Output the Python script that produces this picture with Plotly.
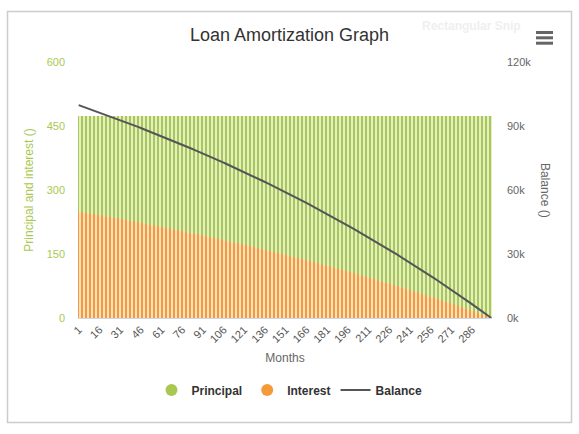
import plotly.graph_objects as go

months = list(range(1, 301))

principal = [
224.2, 224.8, 225.3, 225.9, 226.5, 227.0, 227.6, 228.2, 228.7, 229.3,
229.9, 230.5, 231.0, 231.6, 232.2, 232.8, 233.3, 233.9, 234.5, 235.1,
235.7, 236.3, 236.9, 237.5, 238.1, 238.7, 239.2, 239.8, 240.4, 241.0,
241.7, 242.3, 242.9, 243.5, 244.1, 244.7, 245.3, 245.9, 246.5, 247.1,
247.8, 248.4, 249.0, 249.6, 250.2, 250.9, 251.5, 252.1, 252.8, 253.4,
254.0, 254.7, 255.3, 255.9, 256.6, 257.2, 257.9, 258.5, 259.1, 259.8,
260.4, 261.1, 261.7, 262.4, 263.1, 263.7, 264.4, 265.0, 265.7, 266.4,
267.0, 267.7, 268.4, 269.0, 269.7, 270.4, 271.1, 271.7, 272.4, 273.1,
273.8, 274.5, 275.2, 275.8, 276.5, 277.2, 277.9, 278.6, 279.3, 280.0,
280.7, 281.4, 282.1, 282.8, 283.5, 284.2, 284.9, 285.7, 286.4, 287.1,
287.8, 288.5, 289.2, 290.0, 290.7, 291.4, 292.1, 292.9, 293.6, 294.3,
295.1, 295.8, 296.6, 297.3, 298.0, 298.8, 299.5, 300.3, 301.0, 301.8,
302.5, 303.3, 304.1, 304.8, 305.6, 306.3, 307.1, 307.9, 308.6, 309.4,
310.2, 311.0, 311.7, 312.5, 313.3, 314.1, 314.9, 315.7, 316.4, 317.2,
318.0, 318.8, 319.6, 320.4, 321.2, 322.0, 322.8, 323.6, 324.4, 325.3,
326.1, 326.9, 327.7, 328.5, 329.3, 330.2, 331.0, 331.8, 332.6, 333.5,
334.3, 335.2, 336.0, 336.8, 337.7, 338.5, 339.4, 340.2, 341.1, 341.9,
342.8, 343.6, 344.5, 345.3, 346.2, 347.1, 347.9, 348.8, 349.7, 350.6,
351.4, 352.3, 353.2, 354.1, 355.0, 355.8, 356.7, 357.6, 358.5, 359.4,
360.3, 361.2, 362.1, 363.0, 363.9, 364.8, 365.8, 366.7, 367.6, 368.5,
369.4, 370.4, 371.3, 372.2, 373.1, 374.1, 375.0, 375.9, 376.9, 377.8,
378.8, 379.7, 380.7, 381.6, 382.6, 383.5, 384.5, 385.4, 386.4, 387.4,
388.3, 389.3, 390.3, 391.3, 392.2, 393.2, 394.2, 395.2, 396.2, 397.2,
398.2, 399.2, 400.2, 401.2, 402.2, 403.2, 404.2, 405.2, 406.2, 407.2,
408.2, 409.3, 410.3, 411.3, 412.3, 413.4, 414.4, 415.4, 416.5, 417.5,
418.6, 419.6, 420.6, 421.7, 422.8, 423.8, 424.9, 425.9, 427.0, 428.1,
429.1, 430.2, 431.3, 432.4, 433.4, 434.5, 435.6, 436.7, 437.8, 438.9,
440.0, 441.1, 442.2, 443.3, 444.4, 445.5, 446.6, 447.7, 448.9, 450.0,
451.1, 452.2, 453.4, 454.5, 455.6, 456.8, 457.9, 459.1, 460.2, 461.4,
462.5, 463.7, 464.8, 466.0, 467.2, 468.3, 469.5, 470.7, 471.8, 473.0,
]

interest = [
250.0, 249.4, 248.9, 248.3, 247.7, 247.2, 246.6, 246.0, 245.5, 244.9,
244.3, 243.7, 243.2, 242.6, 242.0, 241.4, 240.9, 240.3, 239.7, 239.1,
238.5, 237.9, 237.3, 236.7, 236.1, 235.5, 235.0, 234.4, 233.8, 233.2,
232.5, 231.9, 231.3, 230.7, 230.1, 229.5, 228.9, 228.3, 227.7, 227.1,
226.4, 225.8, 225.2, 224.6, 224.0, 223.3, 222.7, 222.1, 221.4, 220.8,
220.2, 219.5, 218.9, 218.3, 217.6, 217.0, 216.3, 215.7, 215.1, 214.4,
213.8, 213.1, 212.5, 211.8, 211.1, 210.5, 209.8, 209.2, 208.5, 207.8,
207.2, 206.5, 205.8, 205.2, 204.5, 203.8, 203.1, 202.5, 201.8, 201.1,
200.4, 199.7, 199.0, 198.4, 197.7, 197.0, 196.3, 195.6, 194.9, 194.2,
193.5, 192.8, 192.1, 191.4, 190.7, 190.0, 189.3, 188.5, 187.8, 187.1,
186.4, 185.7, 185.0, 184.2, 183.5, 182.8, 182.1, 181.3, 180.6, 179.9,
179.1, 178.4, 177.6, 176.9, 176.2, 175.4, 174.7, 173.9, 173.2, 172.4,
171.7, 170.9, 170.1, 169.4, 168.6, 167.9, 167.1, 166.3, 165.6, 164.8,
164.0, 163.2, 162.5, 161.7, 160.9, 160.1, 159.3, 158.5, 157.8, 157.0,
156.2, 155.4, 154.6, 153.8, 153.0, 152.2, 151.4, 150.6, 149.8, 148.9,
148.1, 147.3, 146.5, 145.7, 144.9, 144.0, 143.2, 142.4, 141.6, 140.7,
139.9, 139.0, 138.2, 137.4, 136.5, 135.7, 134.8, 134.0, 133.1, 132.3,
131.4, 130.6, 129.7, 128.9, 128.0, 127.1, 126.3, 125.4, 124.5, 123.6,
122.8, 121.9, 121.0, 120.1, 119.2, 118.4, 117.5, 116.6, 115.7, 114.8,
113.9, 113.0, 112.1, 111.2, 110.3, 109.4, 108.4, 107.5, 106.6, 105.7,
104.8, 103.8, 102.9, 102.0, 101.1, 100.1, 99.2, 98.3, 97.3, 96.4,
95.4, 94.5, 93.5, 92.6, 91.6, 90.7, 89.7, 88.8, 87.8, 86.8,
85.9, 84.9, 83.9, 82.9, 82.0, 81.0, 80.0, 79.0, 78.0, 77.0,
76.0, 75.0, 74.0, 73.0, 72.0, 71.0, 70.0, 69.0, 68.0, 67.0,
66.0, 64.9, 63.9, 62.9, 61.9, 60.8, 59.8, 58.8, 57.7, 56.7,
55.6, 54.6, 53.6, 52.5, 51.4, 50.4, 49.3, 48.3, 47.2, 46.1,
45.1, 44.0, 42.9, 41.8, 40.8, 39.7, 38.6, 37.5, 36.4, 35.3,
34.2, 33.1, 32.0, 30.9, 29.8, 28.7, 27.6, 26.5, 25.3, 24.2,
23.1, 22.0, 20.8, 19.7, 18.6, 17.4, 16.3, 15.1, 14.0, 12.8,
11.7, 10.5, 9.4, 8.2, 7.0, 5.9, 4.7, 3.5, 2.4, 1.2,
]

balance = [
99780, 99550, 99330, 99100, 98870, 98650, 98420, 98190, 97960, 97730,
97500, 97270, 97040, 96810, 96580, 96340, 96110, 95880, 95640, 95410,
95170, 94940, 94700, 94460, 94220, 93980, 93750, 93510, 93270, 93020,
92780, 92540, 92300, 92050, 91810, 91570, 91320, 91070, 90830, 90580,
90330, 90080, 89840, 89590, 89340, 89080, 88830, 88580, 88330, 88070,
87820, 87570, 87310, 87050, 86800, 86540, 86280, 86020, 85770, 85510,
85250, 84980, 84720, 84460, 84200, 83930, 83670, 83400, 83140, 82870,
82600, 82340, 82070, 81800, 81530, 81260, 80990, 80720, 80440, 80170,
79900, 79620, 79350, 79070, 78800, 78520, 78240, 77960, 77680, 77400,
77120, 76840, 76560, 76280, 75990, 75710, 75420, 75140, 74850, 74560,
74280, 73990, 73700, 73410, 73120, 72830, 72530, 72240, 71950, 71650,
71360, 71060, 70770, 70470, 70170, 69870, 69570, 69270, 68970, 68670,
68370, 68060, 67760, 67450, 67150, 66840, 66540, 66230, 65920, 65610,
65300, 64990, 64680, 64360, 64050, 63740, 63420, 63110, 62790, 62470,
62150, 61840, 61520, 61200, 60870, 60550, 60230, 59910, 59580, 59260,
58930, 58600, 58270, 57950, 57620, 57290, 56960, 56620, 56290, 55960,
55620, 55290, 54950, 54620, 54280, 53940, 53600, 53260, 52920, 52580,
52230, 51890, 51550, 51200, 50850, 50510, 50160, 49810, 49460, 49110,
48760, 48410, 48050, 47700, 47340, 46990, 46630, 46270, 45920, 45560,
45200, 44830, 44470, 44110, 43750, 43380, 43020, 42650, 42280, 41910,
41540, 41170, 40800, 40430, 40060, 39680, 39310, 38930, 38550, 38180,
37800, 37420, 37040, 36660, 36270, 35890, 35510, 35120, 34730, 34350,
33960, 33570, 33180, 32790, 32390, 32000, 31610, 31210, 30820, 30420,
30020, 29620, 29220, 28820, 28420, 28010, 27610, 27210, 26800, 26390,
25980, 25570, 25160, 24750, 24340, 23930, 23510, 23100, 22680, 22260,
21840, 21430, 21000, 20580, 20160, 19740, 19310, 18890, 18460, 18030,
17600, 17170, 16740, 16310, 15870, 15440, 15000, 14570, 14130, 13690,
13250, 12810, 12370, 11920, 11480, 11030, 10590, 10140, 9690, 9240,
8790, 8340, 7880, 7430, 6970, 6520, 6060, 5600, 5140, 4680,
4220, 3750, 3290, 2820, 2350, 1890, 1420, 950, 470, 0,
]

x_tick_vals = [1, 16, 31, 46, 61, 76, 91, 106, 121, 136, 151, 166, 181, 196, 211, 226, 241, 256, 271, 286]
x_tick_text = ["1", "16", "31", "46", "61", "76", "91", "106", "121", "136", "151", "166", "181", "196", "211", "226", "241", "256", "271", "286"]
left_tick_vals = [0, 150, 300, 450, 600]
right_tick_vals = [0, 30000, 60000, 90000, 120000]
right_tick_text = ["0k", "30k", "60k", "90k", "120k"]

GREEN = "#a9c852"
ORANGE = "#f39b38"
LINE = "#555555"
FONT = "Liberation Sans, Arial, sans-serif"


def stripes(color):
    # white vertical gaps, imitating the striped look of the dense bars
    return dict(shape="|", size=4, solidity=0.35, fgcolor="white", fgopacity=1, bgcolor=color)


fig = go.Figure()
fig.add_trace(go.Bar(x=months, y=interest, name="Interest",
                     marker=dict(color=ORANGE, line=dict(width=0), pattern=stripes(ORANGE)),
                     showlegend=False))
fig.add_trace(go.Bar(x=months, y=principal, name="Principal",
                     marker=dict(color=GREEN, line=dict(width=0), pattern=stripes(GREEN)),
                     showlegend=False))
fig.add_trace(go.Scatter(x=months, y=balance, name="Balance", mode="lines", yaxis="y2",
                         line=dict(color=LINE, width=2), showlegend=False))
# legend entries
fig.add_trace(go.Scatter(x=[None], y=[None], mode="markers", name="Principal",
                         marker=dict(symbol="circle", size=12, color=GREEN)))
fig.add_trace(go.Scatter(x=[None], y=[None], mode="markers", name="Interest",
                         marker=dict(symbol="circle", size=12, color=ORANGE)))
fig.add_trace(go.Scatter(x=[None], y=[None], mode="lines", name="Balance", yaxis="y2",
                         line=dict(color=LINE, width=2)))

fig.update_layout(
    width=579, height=434,
    margin=dict(l=78, r=87, t=62, b=116),
    paper_bgcolor="white", plot_bgcolor="white",
    font=dict(family=FONT, size=11, color="#666666"),
    barmode="stack", bargap=0.0,
    title=dict(text="Loan Amortization Graph", x=0.5, xref="container", xanchor="center",
               y=1 - 35 / 434, yref="container", yanchor="middle",
               font=dict(family=FONT, size=18, color="#333333")),
    xaxis=dict(range=[0.5, 300.5], tickvals=x_tick_vals, ticktext=x_tick_text, tickangle=-45,
               showgrid=False, zeroline=False, showline=True, linecolor="#ccd6eb", linewidth=1,
               ticks="", tickfont=dict(size=11, color="#555555"),
               title=dict(text="Months", font=dict(size=12, color="#666666"), standoff=9)),
    yaxis=dict(range=[0, 600], tickvals=left_tick_vals, showgrid=True, gridcolor="#e6e6e6",
               zeroline=False, ticks="", tickfont=dict(size=11, color="#a9c852"), ticklabelstandoff=12,
               title=dict(text="Principal and interest ()", font=dict(size=12, color="#a9c852"), standoff=10)),
    yaxis2=dict(range=[0, 120000], tickvals=right_tick_vals, ticktext=right_tick_text, overlaying="y",
                side="right", showgrid=False, zeroline=False, ticks="", ticklabelstandoff=14,
                tickfont=dict(size=11, color="#666666")),
    legend=dict(orientation="h", x=0.5, xref="container", xanchor="center", y=1 - 390 / 434,
                yref="container", yanchor="middle",
                font=dict(family=FONT, size=12, color="#333333", weight="bold"),
                itemwidth=30, traceorder="normal"),
    showlegend=True,
)

fig.add_annotation(text="Balance ()", textangle=90, xref="paper", yref="paper",
                   x=(545 - 78) / 414, y=0.5, xanchor="center", yanchor="middle", showarrow=False,
                   font=dict(family=FONT, size=12, color="#666666"))
fig.add_annotation(text="<b>Rectangular Snip</b>", xref="paper", yref="paper",
                   x=(471 - 78) / 414, y=(318 - 26) / 256, xanchor="center", yanchor="middle",
                   showarrow=False, font=dict(family=FONT, size=12, color="#efefef"))

# border and menu icon
fig.add_shape(type="rect", xref="paper", yref="paper",
              x0=(7.5 - 78) / 414, x1=(571.5 - 78) / 414, y0=(318 - 422.5) / 256, y1=(318 - 11.5) / 256,
              line=dict(color="#cccccc", width=1.5), fillcolor="rgba(0,0,0,0)", layer="below")
for py in [32.5, 37.8, 43.2]:
    fig.add_shape(type="line", xref="paper", yref="paper",
                  x0=(536 - 78) / 414, x1=(553 - 78) / 414, y0=(318 - py) / 256, y1=(318 - py) / 256,
                  line=dict(color="#666666", width=3))

fig.write_html("out.html")
